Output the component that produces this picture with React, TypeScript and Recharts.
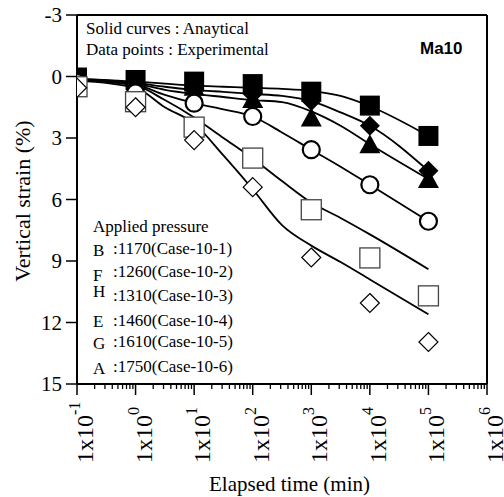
import { ComposedChart, Line, Scatter, XAxis, YAxis, ReferenceLine } from "recharts";

const FONT = "'Liberation Serif', 'Times New Roman', serif";

// experimental points, read at each decade (min)
const pointTimes = [0.1, 1, 10, 100, 1000, 10000, 100000];
const pointsB = [0.05, 0.17, 0.25, 0.37, 0.74, 1.42, 2.9];
const pointsF = [0.1, 0.3, 0.5, 0.85, 1.2, 2.4, 4.6];
const pointsH = [0.15, 0.4, 0.5, 1.1, 2.0, 3.3, 5.0];
const pointsE = [0.3, 0.8, 1.3, 1.95, 3.57, 5.28, 7.06];
const pointsG = [0.5, 1.23, 2.47, 3.98, 6.5, 8.85, 10.7];
const pointsA = [0.55, 1.5, 3.1, 5.4, 8.83, 11.05, 12.95];

// analytical curves
const curveTimes = [0.1, 1, 3.16, 10, 31.6, 100, 316, 1000, 3162, 10000, 100000];
const curveB = [0.1, 0.25, 0.35, 0.45, 0.5, 0.55, 0.6, 0.7, 0.95, 1.45, 2.9];
const curveF = [0.12, 0.3, 0.5, 0.65, 0.75, 0.85, 0.95, 1.2, 1.75, 2.4, 4.6];
const curveH = [0.14, 0.35, 0.65, 0.85, 1.0, 1.15, 1.25, 1.7, 2.4, 3.3, 5.0];
const curveE = [0.16, 0.4, 0.9, 1.3, 1.6, 1.95, 2.73, 3.57, 4.4, 5.28, 7.06];
const curveG = [0.18, 0.45, 1.15, 2.0, 3.0, 4.0, 5.1, 6.15, 6.9, 7.7, 9.4];
const curveA = [0.2, 0.55, 1.5, 2.3, 3.85, 5.5, 7.25, 8.25, 9.05, 9.9, 11.6];

const legendLetters = ["B", "F", "H", "E", "G", "A"];
const legendPressures = ["1170", "1260", "1310", "1460", "1610", "1750"];
const legendCases = ["Case-10-1", "Case-10-2", "Case-10-3", "Case-10-4", "Case-10-5", "Case-10-6"];

const xTickValues = [0.1, 1, 10, 100, 1000, 10000, 100000, 1000000];
const xTickExponents = ["-1", "0", "1", "2", "3", "4", "5", "6"];
const yTicks = [-3, 0, 3, 6, 9, 12, 15];

const minorTicks = xTickValues
  .slice(0, -1)
  .flatMap((d) => [2, 3, 4, 5, 6, 7, 8, 9].map((k) => d * k));

const series = [
  { key: "B", pts: pointsB, curve: curveB, kind: "fsquare" },
  { key: "F", pts: pointsF, curve: curveF, kind: "fdiamond" },
  { key: "H", pts: pointsH, curve: curveH, kind: "ftriangle" },
  { key: "E", pts: pointsE, curve: curveE, kind: "ocircle" },
  { key: "G", pts: pointsG, curve: curveG, kind: "osquare" },
  { key: "A", pts: pointsA, curve: curveA, kind: "odiamond" },
];

const curveRows = curveTimes.map((t, i) => {
  const row: Record<string, number> = { t };
  series.forEach((s) => (row[s.key] = s.curve[i]));
  return row;
});

function Marker({ cx, cy, kind }: { cx: number; cy: number; kind: string }) {
  if (cx == null || cy == null) return null;
  switch (kind) {
    case "fsquare":
      return <rect x={cx - 10} y={cy - 10} width={20} height={20} fill="#000" />;
    case "fdiamond":
      return <polygon points={`${cx},${cy - 10} ${cx + 10},${cy} ${cx},${cy + 10} ${cx - 10},${cy}`} fill="#000" />;
    case "ftriangle":
      return <polygon points={`${cx},${cy - 10} ${cx + 10.5},${cy + 9} ${cx - 10.5},${cy + 9}`} fill="#000" />;
    case "ocircle":
      return <circle cx={cx} cy={cy} r={8.5} fill="#fff" stroke="#000" strokeWidth={2.2} />;
    case "osquare":
      return <rect x={cx - 10} y={cy - 10} width={20} height={20} fill="#fff" stroke="#444" strokeWidth={1.3} />;
    default:
      return (
        <polygon
          points={`${cx},${cy - 9.5} ${cx + 9.5},${cy} ${cx},${cy + 9.5} ${cx - 9.5},${cy}`}
          fill="#fff"
          stroke="#000"
          strokeWidth={1.2}
        />
      );
  }
}

function XTick({ x, y, payload }: any) {
  const v = payload.value;
  const i = xTickValues.findIndex((t) => Math.abs(t - v) / t < 1e-9);
  if (i < 0) return <line x1={x} x2={x} y1={y} y2={y + 5} stroke="#000" strokeWidth={1.3} />;
  return (
    <g>
      <line x1={x} x2={x} y1={y} y2={y + 11} stroke="#000" strokeWidth={1.5} />
      <text transform={`translate(${x + 16},463) rotate(-90)`} fontFamily={FONT} fontSize={24} fill="#000">
        1x10
        <tspan dy={-13} fontSize={16}>
          {xTickExponents[i]}
        </tspan>
      </text>
    </g>
  );
}

function YTick({ x, y, payload }: any) {
  return (
    <text x={x} y={y} dy={7} textAnchor="end" fontFamily={FONT} fontSize={21} fill="#000">
      {payload.value}
    </text>
  );
}

const letterBase = [255.5, 280.5, 297, 327, 349, 373.5];
const textBase = [253.5, 277, 300.5, 325.5, 347, 372];

export default function App() {
  return (
    <div style={{ position: "absolute", left: 0, top: 0, width: 504, height: 497, background: "#fff" }}>
      <ComposedChart width={504} height={497} margin={{ top: 15, right: 17, left: 0, bottom: 0 }}>
        <XAxis
          dataKey="t"
          type="number"
          scale="log"
          domain={[0.1, 1000000]}
          allowDataOverflow
          ticks={[...xTickValues, ...minorTicks]}
          interval={0}
          tick={<XTick />}
          tickLine={false}
          tickSize={0}
          tickMargin={0}
          height={113}
          axisLine={{ stroke: "#000", strokeWidth: 2 }}
        />
        <YAxis
          type="number"
          domain={[-3, 15]}
          reversed
          ticks={yTicks}
          interval={0}
          width={77}
          tickSize={11}
          tickMargin={4}
          tick={<YTick />}
          tickLine={{ stroke: "#000", strokeWidth: 1.5 }}
          axisLine={{ stroke: "#000", strokeWidth: 2 }}
        />
        <ReferenceLine y={-3} stroke="#000" strokeWidth={2} />
        <ReferenceLine x={1000000} stroke="#000" strokeWidth={2} />
        {series.map((s) => (
          <Line
            key={"c" + s.key}
            data={curveRows}
            dataKey={s.key}
            type="monotone"
            dot={false}
            stroke="#000"
            strokeWidth={1.8}
            isAnimationActive={false}
          />
        ))}
        {series.map((s) => (
          <Scatter
            key={"p" + s.key}
            data={pointTimes.map((t, i) => ({ t, v: s.pts[i] }))}
            dataKey="v"
            isAnimationActive={false}
            shape={(p: any) => <Marker cx={p.cx} cy={p.cy} kind={s.kind} />}
          />
        ))}
      </ComposedChart>
      <svg
        width={504}
        height={497}
        style={{ position: "absolute", left: 0, top: 0, pointerEvents: "none" }}
      >
        <g fontFamily={FONT} fill="#000">
          <text x={86} y={33.5} fontSize={17}>Solid curves : Anaytical</text>
          <text x={86} y={55} fontSize={17}>Data points : Experimental</text>
          <text x={93} y={232} fontSize={17}>Applied pressure</text>
          {legendLetters.map((l, i) => (
            <g key={l}>
              <text x={93} y={letterBase[i]} fontSize={17}>{l}</text>
              <text x={113} y={textBase[i]} fontSize={17}>
                {`:${legendPressures[i]}(${legendCases[i]})`}
              </text>
            </g>
          ))}
          <text x={289.5} y={491} fontSize={21} textAnchor="middle">Elapsed time (min)</text>
          <text transform="translate(30,201) rotate(-90)" fontSize={22} textAnchor="middle">
            Vertical strain (%)
          </text>
        </g>
        <text x={420} y={54} fontSize={17} fontWeight="bold" fontFamily="'Liberation Sans', Arial, sans-serif">
          Ma10
        </text>
      </svg>
    </div>
  );
}
